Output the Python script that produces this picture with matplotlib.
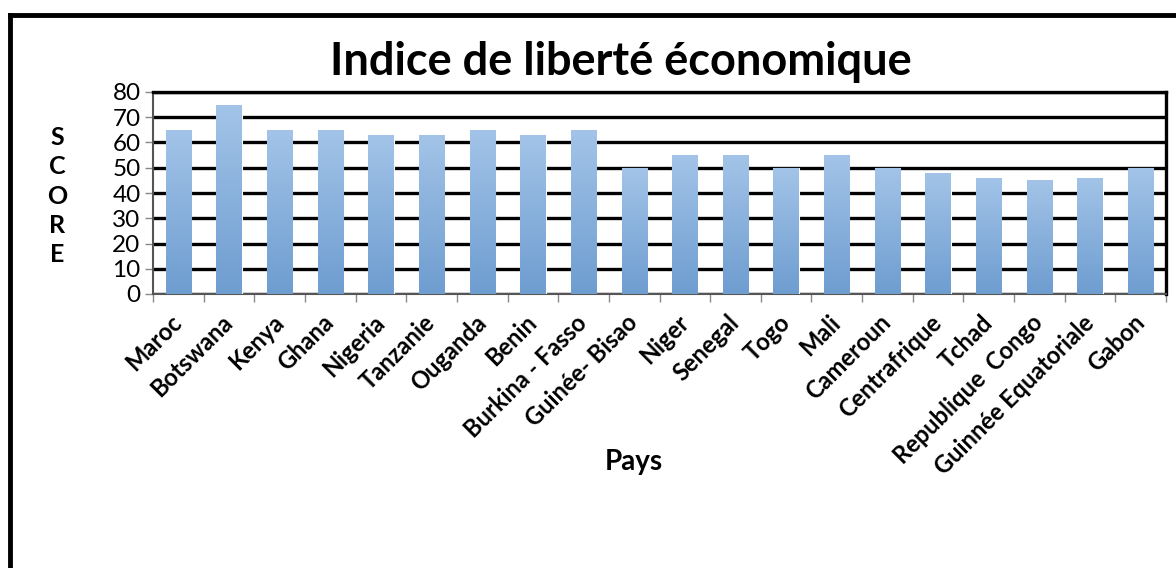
import numpy as np
import matplotlib.pyplot as plt
from matplotlib.lines import Line2D

# Données
pays = ["Maroc", "Botswana", "Kenya", "Ghana", "Nigeria", "Tanzanie", "Ouganda",
        "Benin", "Burkina - Fasso", "Guinée- Bisao", "Niger", "Senegal", "Togo",
        "Mali", "Cameroun", "Centrafrique", "Tchad", "Republique  Congo",
        "Guinnée Equatoriale", "Gabon"]
score = [65, 75, 65, 65, 63, 63, 65, 63, 65, 50, 55, 55, 50, 55, 50, 48, 46, 45, 46, 50]
yticks = [0, 10, 20, 30, 40, 50, 60, 70, 80]

plt.rcParams['font.family'] = ['Lato', 'DejaVu Sans']

fig = plt.figure(figsize=(11.76, 5.68), dpi=100)
ax = fig.add_axes([153 / 1176, 1 - 294 / 568, (1166 - 153) / 1176, (294 - 92) / 568])

x = np.arange(len(pays))
bars = ax.bar(x, score, width=0.5, color='#8db3e2', edgecolor='white', linewidth=0.8, zorder=3)

# dégradé vertical dans chaque barre
grad = np.linspace(0, 1, 256).reshape(-1, 1)
cmap = plt.matplotlib.colors.LinearSegmentedColormap.from_list('bleu', ['#6e9dd0', '#a3c4e8'])
for b in bars:
    x0, y0, w, h = b.get_x(), b.get_y(), b.get_width(), b.get_height()
    im = ax.imshow(grad, extent=[x0, x0 + w, y0, y0 + h], origin='lower', cmap=cmap,
                   aspect='auto', zorder=4)
    im.set_clip_path(b)

ax.set_xlim(-0.5, len(pays) - 0.5)
ax.set_ylim(0, 80)
ax.set_yticks(yticks)
ax.set_yticklabels([str(v) for v in yticks], fontsize=17.5)
ax.yaxis.grid(True, color='black', linewidth=2.4, zorder=1)
ax.set_axisbelow(True)

ax.set_xticks(x)
ax.set_xticklabels(pays, rotation=45, ha='right', va='center', rotation_mode='anchor',
                   fontsize=17, fontweight='bold')
ax.tick_params(axis='x', length=0, pad=18)
ax.set_xticks(np.arange(-0.5, len(pays), 1), minor=True)
ax.tick_params(axis='x', which='minor', length=6, color='#888888', width=1)
ax.tick_params(axis='y', length=6, color='#888888', width=1, pad=3)

for s in ['top', 'right']:
    ax.spines[s].set_linewidth(2.4)
    ax.spines[s].set_color('black')
ax.spines['left'].set_color('#555555')
ax.spines['left'].set_linewidth(1.5)
ax.spines['bottom'].set_color('#555555')
ax.spines['bottom'].set_linewidth(1.5)

fig.text(621 / 1176, 1 - 62 / 568, "Indice de liberté économique", ha='center', va='center',
         fontsize=32.5, fontweight='bold')
fig.text(57 / 1176, 1 - 196 / 568, "S\nC\nO\nR\nE", ha='center', va='center',
         fontsize=18, fontweight='bold', linespacing=1.33)
fig.text(634 / 1176, 1 - 462 / 568, "Pays", ha='center', va='center',
         fontsize=20, fontweight='bold')

# cadre extérieur
fig.add_artist(Line2D([10 / 1176, 1.0], [1 - 15 / 568, 1 - 15 / 568], color='black', linewidth=3.5))
fig.add_artist(Line2D([10 / 1176, 10 / 1176], [0, 1 - 15 / 568], color='black', linewidth=3.5))

fig.savefig('out.png', dpi=100)
